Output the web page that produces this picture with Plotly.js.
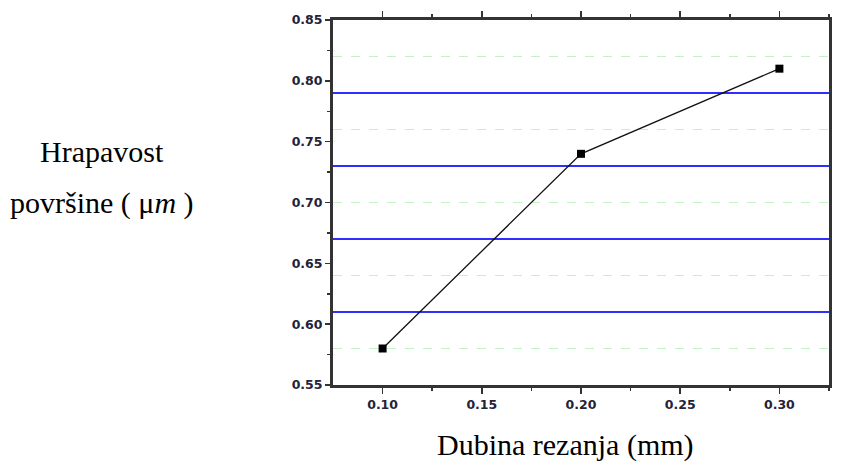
<!DOCTYPE html>
<html>
<head>
<meta charset="utf-8">
<script src="https://cdn.plot.ly/plotly-3.0.1.min.js"></script>
<style>html,body{margin:0;padding:0;background:#fff;}#chart{width:850px;height:463px;}</style>
</head>
<body>
<div id="chart"></div>
<script>
const depth = [0.10, 0.20, 0.30];
const roughness = [0.58, 0.74, 0.81];
const xTickVals = [0.10, 0.15, 0.20, 0.25, 0.30];
const xTickText = ['0.10', '0.15', '0.20', '0.25', '0.30'];
const yTickVals = [0.55, 0.60, 0.65, 0.70, 0.75, 0.80, 0.85];
const yTickText = ['0.55', '0.60', '0.65', '0.70', '0.75', '0.80', '0.85'];
const blueGrid = [0.61, 0.67, 0.73, 0.79];
const greenGrid = [0.58, 0.64, 0.70, 0.76, 0.82];
const xTitle = 'Dubina rezanja (mm)';
const yTitleLine1 = 'Hrapavost';
const yTitleLine2 = 'površine ( μ<i>m</i> )';

const xRange = [0.075, 0.325];
const yRange = [0.55, 0.85];
const serif = "'Liberation Serif', 'Times New Roman', serif";
const tickFont = {family: "'DejaVu Sans', Verdana, sans-serif", size: 12.5, color: '#23233a', weight: 'bold'};
const titleFont = {family: serif, size: 30, color: '#000'};

const traces = [
  {x: depth, y: roughness, type: 'scatter', mode: 'lines+markers',
   line: {color: '#111', width: 1.3},
   marker: {symbol: 'square', size: 8, color: '#000'},
   showlegend: false, hoverinfo: 'x+y'},
  {x: [xRange[0]], y: [blueGrid[0]], yaxis: 'y2', type: 'scatter', mode: 'markers',
   marker: {opacity: 0}, showlegend: false, hoverinfo: 'skip'},
  {x: [xRange[0]], y: [greenGrid[0]], yaxis: 'y3', type: 'scatter', mode: 'markers',
   marker: {opacity: 0}, showlegend: false, hoverinfo: 'skip'}
];

const layout = {
  width: 850, height: 463,
  margin: {l: 333, r: 21, t: 20, b: 78},
  paper_bgcolor: '#fff', plot_bgcolor: '#fff',
  xaxis: {
    range: xRange, tickvals: xTickVals, ticktext: xTickText,
    tickfont: tickFont, ticks: 'outside', ticklen: 6, tickwidth: 1.5, tickcolor: '#333',
    minor: {tickvals: [0.125, 0.175, 0.225, 0.275, 0.325], ticks: 'outside', ticklen: 3, tickwidth: 1.5, tickcolor: '#333', showgrid: false},
    showline: true, linecolor: '#333', linewidth: 3, mirror: 'ticks',
    showgrid: false, zeroline: false
  },
  yaxis: {
    range: yRange, tickvals: yTickVals, ticktext: yTickText,
    tickfont: tickFont, ticks: 'outside', ticklen: 5, tickwidth: 1.5, tickcolor: '#333',
    minor: {tickvals: [0.575, 0.625, 0.675, 0.725, 0.775, 0.825], ticks: 'outside', ticklen: 3, tickwidth: 1.5, tickcolor: '#333', showgrid: false},
    showline: true, linecolor: '#333', linewidth: 3, mirror: true,
    showgrid: false, zeroline: false
  },
  yaxis2: {
    overlaying: 'y', range: yRange, tickvals: blueGrid, showticklabels: false, ticks: '',
    showgrid: true, gridcolor: '#2e2eff', gridwidth: 1.8, zeroline: false, showline: false
  },
  yaxis3: {
    overlaying: 'y', range: yRange, tickvals: greenGrid, showticklabels: false, ticks: '',
    showgrid: true, gridcolor: '#c4f2c4', gridwidth: 1.3, griddash: 'dash', zeroline: false, showline: false
  },
  annotations: [
    {text: xTitle, xref: 'paper', yref: 'paper', x: 0.468, y: -0.164, xanchor: 'center', yanchor: 'middle',
     showarrow: false, font: titleFont},
    {text: yTitleLine1, xref: 'paper', yref: 'paper', x: -0.466, y: 0.641, xanchor: 'center', yanchor: 'middle',
     showarrow: false, font: titleFont},
    {text: yTitleLine2, xref: 'paper', yref: 'paper', x: -0.466, y: 0.499, xanchor: 'center', yanchor: 'middle',
     showarrow: false, font: titleFont}
  ]
};

Plotly.newPlot('chart', traces, layout, {displayModeBar: false, staticPlot: true});
</script>
</body>
</html>
